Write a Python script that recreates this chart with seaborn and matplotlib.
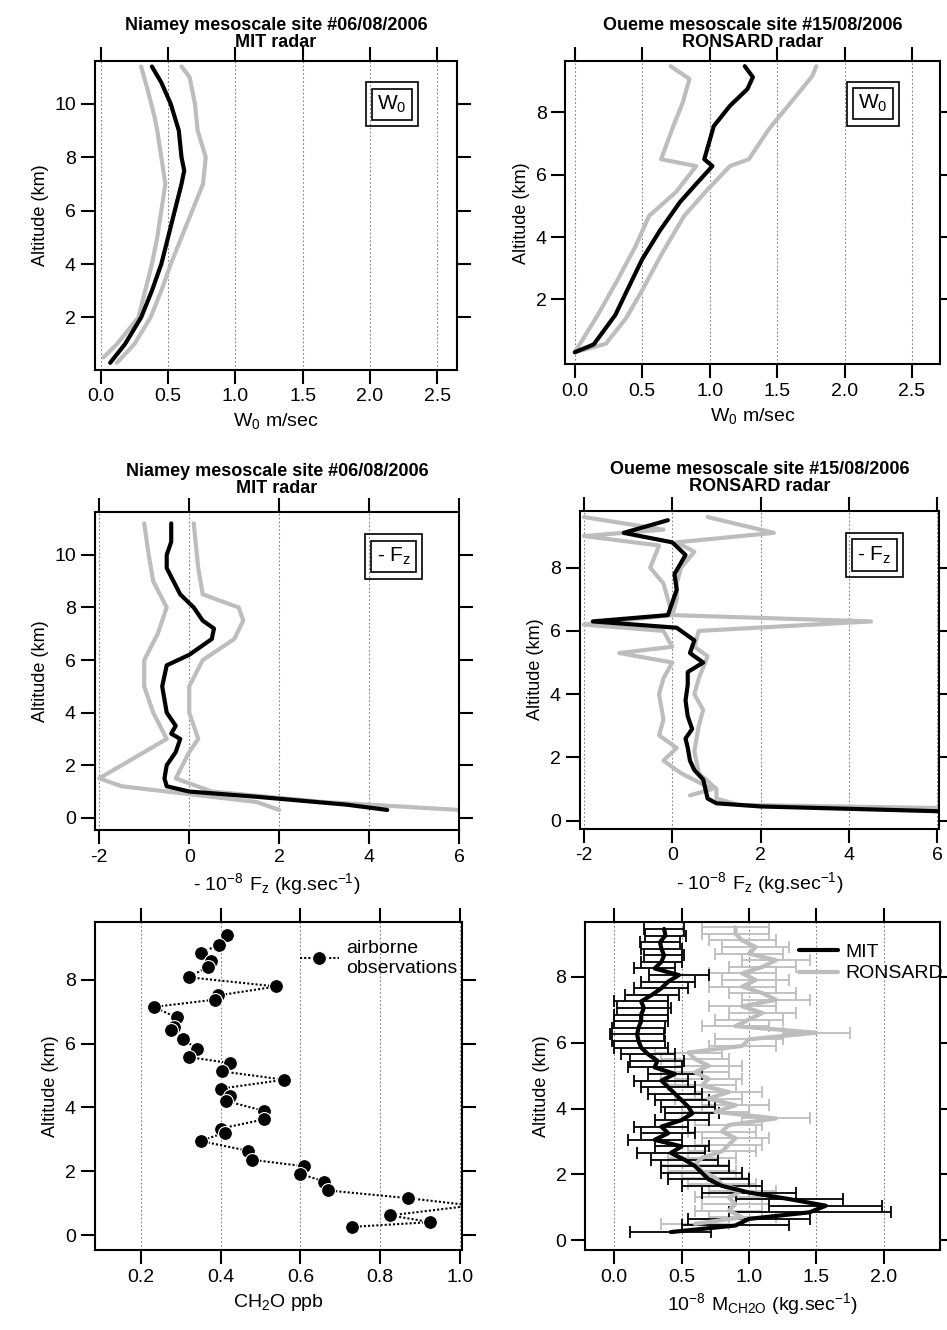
import numpy as np
import pandas as pd
import matplotlib
matplotlib.use("Agg")
import matplotlib.pyplot as plt
import seaborn as sns

sns.set_style("ticks")
plt.rcParams['font.family'] = ['Liberation Sans', 'DejaVu Sans']
plt.rcParams.update({'text.color': 'k', 'axes.labelcolor': 'k', 'xtick.color': 'k', 'ytick.color': 'k',
                     'axes.edgecolor': 'k'})

GREY = '#bdbdbd'

# panel 1 : Niamey W0
p1_alt_mean = [0.3, 1, 2, 3, 4, 5, 6, 7, 7.5, 8, 9, 10, 10.8, 11.4]
p1_mean = [0.07, 0.18, 0.3, 0.38, 0.45, 0.5, 0.55, 0.6, 0.62, 0.6, 0.58, 0.52, 0.45, 0.38]
p1_alt_lo = [0.5, 1, 2, 3, 4, 5, 6, 7, 8, 9, 9.5, 10.5, 11.4]
p1_lo = [0.02, 0.12, 0.28, 0.33, 0.38, 0.42, 0.45, 0.48, 0.45, 0.42, 0.4, 0.35, 0.3]
p1_alt_hi = [0.3, 1, 2, 3, 4, 5, 6, 7, 8, 9, 10, 11, 11.4]
p1_hi = [0.12, 0.25, 0.37, 0.45, 0.52, 0.6, 0.68, 0.76, 0.78, 0.72, 0.7, 0.66, 0.6]

# panel 2 : Oueme W0
p2_alt_mean = [0.31, 0.56, 1.5, 2.4, 3.29, 4.2, 5.12, 5.7, 6.27, 6.49, 7.55, 8.2, 8.74, 9.12, 9.47]
p2_mean = [0.0, 0.14, 0.3, 0.4, 0.5, 0.63, 0.78, 0.9, 1.02, 0.96, 1.03, 1.15, 1.28, 1.32, 1.26]
p2_alt_lo = [0.31, 1.5, 2.65, 3.7, 4.67, 5.44, 6.27, 6.49, 7.55, 8.3, 9.06, 9.47]
p2_lo = [0.0, 0.17, 0.32, 0.45, 0.55, 0.75, 0.9, 0.64, 0.73, 0.8, 0.85, 0.71]
p2_alt_hi = [0.31, 0.58, 1.4, 2.3, 3.5, 4.67, 5.5, 6.27, 6.49, 7.46, 8.3, 9.15, 9.47]
p2_hi = [0.0, 0.23, 0.38, 0.5, 0.65, 0.81, 0.98, 1.15, 1.29, 1.44, 1.6, 1.76, 1.79]

# panel 3 : Niamey -Fz
p3_alt_mean = [0.3, 0.5, 0.8, 1.0, 1.2, 1.5, 2, 2.5, 3.0, 3.2, 3.5, 4, 5, 5.8, 6.2, 6.8, 7.2, 7.5, 8, 8.5, 9.5, 10, 10.5, 11.2]
p3_mean = [4.4, 3.5, 1.5, 0, -0.5, -0.55, -0.5, -0.3, -0.2, -0.4, -0.3, -0.5, -0.6, -0.5, 0, 0.5, 0.55, 0.3, 0.1, -0.2, -0.5, -0.5, -0.4, -0.4]
p3_alt_lo = [0.3, 0.6, 1.2, 1.5, 2, 2.5, 3, 4, 5, 6, 7, 8, 9, 10, 11.2]
p3_lo = [2, 1.5, -1.5, -2, -1.5, -1, -0.5, -0.8, -1, -1, -0.7, -0.5, -0.8, -0.9, -1]
p3_alt_hi = [0.3, 0.6, 1.0, 1.5, 2.5, 3, 4, 5, 6, 6.8, 7.5, 8, 8.5, 9.5, 11.2]
p3_hi = [6, 3, 0.5, -0.3, 0, 0.2, 0, 0, 0.3, 1, 1.2, 1.1, 0.3, 0.2, 0.1]

# panel 4 : Oueme -Fz
p4_alt_mean = [0.3, 0.45, 0.55, 0.7, 1.0, 1.3, 1.6, 1.9, 2.3, 2.6, 2.9, 3.3, 3.8, 4.3, 4.7, 5.0, 5.3, 5.7, 6.1, 6.3, 6.5, 6.9, 7.3, 7.8, 8.4, 8.8, 9.1, 9.5]
p4_mean = [6, 2, 1.0, 0.8, 0.75, 0.7, 0.5, 0.4, 0.35, 0.3, 0.45, 0.35, 0.3, 0.35, 0.35, 0.7, 0.4, 0.5, 0.1, -1.8, -0.1, 0, 0.1, 0.05, 0.3, 0.0, -1.1, -0.1]
p4_alt_lo = [0.8, 1.0, 1.5, 1.9, 2.3, 2.7, 3.2, 4, 4.5, 5, 5.3, 5.5, 6.0, 6.2, 6.5, 7, 7.5, 8, 8.7, 9.0, 9.2, 9.6]
p4_lo = [0.4, 0.9, 0.2, -0.2, 0.1, -0.3, -0.2, -0.3, -0.2, 0, -1.2, 0, -0.2, -2, 0, -0.1, -0.2, -0.5, -0.3, -2, -0.2, -2]
p4_alt_hi = [0.4, 0.5, 0.7, 1.0, 1.5, 2.2, 3, 3.5, 4, 4.5, 5.2, 5.5, 6, 6.3, 6.5, 7, 7.5, 8, 8.5, 8.8, 9.1, 9.6]
p4_hi = [6, 1.5, 1.0, 1.0, 0.6, 0.5, 0.6, 0.7, 0.5, 0.6, 0.8, 0.5, 0.6, 4.5, 0, 0.1, 0.1, 0.2, 0.5, 0.1, 2.3, 0.8]

# panel 5 : CH2O airborne
p5_alt = [9.40, 9.10, 8.84, 8.60, 8.41, 8.08, 7.79, 7.51, 7.38, 7.15, 6.82, 6.53, 6.42, 6.15, 5.83, 5.58,
          5.39, 5.13, 4.87, 4.59, 4.37, 4.20, 3.89, 3.63, 3.34, 3.21, 2.95, 2.64, 2.36, 2.16, 1.92, 1.68,
          1.40, 1.16, 0.93, 0.62, 0.41, 0.26]
p5_ch2o = [0.417, 0.397, 0.35, 0.375, 0.369, 0.32, 0.54, 0.394, 0.387, 0.233, 0.29, 0.283, 0.277, 0.307,
           0.34, 0.32, 0.424, 0.404, 0.56, 0.40, 0.423, 0.415, 0.51, 0.51, 0.40, 0.41, 0.35, 0.47, 0.48,
           0.61, 0.60, 0.66, 0.67, 0.87, 1.03, 0.825, 0.925, 0.73]

# panel 6 : M_CH2O
p6_mit_alt = [0.25, 0.45, 0.65, 0.85, 1.05, 1.25, 1.45, 1.65, 1.85, 2.05, 2.25, 2.45, 2.65, 2.85, 3.05, 3.25,
              3.45, 3.65, 3.85, 4.05, 4.25, 4.45, 4.65, 4.85, 5.05, 5.25, 5.45, 5.65, 5.85, 6.05, 6.25, 6.45,
              6.65, 6.85, 7.05, 7.25, 7.45, 7.65, 7.85, 8.05, 8.25, 8.45, 8.65, 8.85, 9.05, 9.25, 9.45]
p6_mit = [0.42, 0.9, 1.0, 1.45, 1.57, 1.3, 1.0, 0.8, 0.7, 0.65, 0.6, 0.52, 0.42, 0.5, 0.3, 0.4,
          0.35, 0.5, 0.58, 0.55, 0.5, 0.45, 0.4, 0.35, 0.45, 0.3, 0.32, 0.25, 0.2, 0.18, 0.17, 0.18,
          0.2, 0.2, 0.22, 0.2, 0.28, 0.35, 0.4, 0.48, 0.3, 0.35, 0.37, 0.35, 0.34, 0.38, 0.37]
p6_mit_err = [0.3, 0.4, 0.45, 0.6, 0.42, 0.4, 0.35, 0.3, 0.3, 0.3, 0.25, 0.25, 0.25, 0.2, 0.2, 0.2,
              0.2, 0.2, 0.2, 0.2, 0.2, 0.2, 0.2, 0.2, 0.2, 0.2, 0.2, 0.2, 0.2, 0.2, 0.2, 0.2,
              0.2, 0.2, 0.2, 0.2, 0.2, 0.2, 0.2, 0.22, 0.15, 0.15, 0.15, 0.15, 0.15, 0.15, 0.15]
p6_ron_alt = [0.5, 0.7, 0.9, 1.1, 1.3, 1.5, 1.7, 1.9, 2.1, 2.3, 2.5, 2.7, 2.9, 3.1, 3.3, 3.5, 3.7, 3.9,
              4.1, 4.3, 4.5, 4.7, 4.9, 5.1, 5.3, 5.5, 5.7, 5.9, 6.1, 6.3, 6.5, 6.7, 6.9, 7.1, 7.3, 7.5,
              7.7, 7.9, 8.1, 8.3, 8.5, 8.7, 8.9, 9.1, 9.3, 9.5]
p6_ron = [0.6, 0.95, 0.85, 0.9, 0.85, 0.95, 0.8, 0.75, 0.65, 0.6, 0.65, 0.8, 0.85, 0.9, 0.8, 0.85, 1.2, 0.75,
          0.9, 0.7, 0.85, 0.65, 0.7, 0.6, 0.7, 0.6, 0.55, 0.95, 1.0, 1.5, 0.9, 1.0, 1.1, 0.95, 1.2, 1.1,
          0.95, 1.05, 0.95, 1.1, 1.2, 1.0, 1.05, 0.95, 0.9, 0.9]
p6_ron_err = 0.25

fig = plt.figure(figsize=(9.47, 13.3), dpi=100)
axes = [
    fig.add_axes([0.100, 0.722, 0.383, 0.232]),
    fig.add_axes([0.597, 0.726, 0.396, 0.228]),
    fig.add_axes([0.100, 0.376, 0.385, 0.239]),
    fig.add_axes([0.612, 0.377, 0.380, 0.239]),
    fig.add_axes([0.100, 0.060, 0.388, 0.247]),
    fig.add_axes([0.618, 0.060, 0.375, 0.247]),
]


def line(ax, x, y, color, lw=3):
    df = pd.DataFrame({'x': x, 'y': y})
    sns.lineplot(data=df, x='x', y='y', ax=ax, color=color, lw=lw, sort=False, estimator=None)


def boxlabel(ax, s):
    for pad in (0.25, 0.55):
        ax.text(0.82, 0.86, s, transform=ax.transAxes, fontsize=15, ha='center',
                va='center', color='k' if pad == 0.25 else 'none',
                bbox=dict(boxstyle='square', pad=pad, fc='none', ec='k', lw=1.2))


def style(ax, xlim, ylim, xticks, yticks, xlabels, xlabel):
    ax.set_xlim(*xlim)
    ax.set_ylim(*ylim)
    ax.set_xticks(xticks)
    ax.set_xticklabels(xlabels)
    ax.set_yticks(yticks)
    ax.set_ylabel('Altitude (km)', fontsize=13)
    ax.set_xlabel(xlabel, fontsize=14)
    for x in xticks:
        ax.axvline(x, color='grey', ls=(0, (1.5, 2)), lw=0.8, zorder=0)
    ax.tick_params(axis='both', which='both', direction='out', length=10, width=1.5,
                   labelsize=14, top=True, right=True)
    for s in ax.spines.values():
        s.set_linewidth(1.5)


titles = ['Niamey mesoscale site #06/08/2006\nMIT radar', 'Oueme mesoscale site #15/08/2006\nRONSARD radar']

ax = axes[0]
line(ax, p1_lo, p1_alt_lo, GREY)
line(ax, p1_hi, p1_alt_hi, GREY)
line(ax, p1_mean, p1_alt_mean, 'k')
style(ax, (-0.045, 2.65), (0.04, 11.6), [0, 0.5, 1, 1.5, 2, 2.5], [2, 4, 6, 8, 10],
      ['0.0', '0.5', '1.0', '1.5', '2.0', '2.5'], '$\\mathregular{W_0}$ m/sec')
ax.set_title(titles[0], fontsize=13, fontweight='bold', linespacing=1.0, pad=10)
boxlabel(ax, '$\\mathregular{W_0}$')

ax = axes[1]
line(ax, p2_lo, p2_alt_lo, GREY)
line(ax, p2_hi, p2_alt_hi, GREY)
line(ax, p2_mean, p2_alt_mean, 'k')
style(ax, (-0.07, 2.71), (-0.08, 9.63), [0, 0.5, 1, 1.5, 2, 2.5], [2, 4, 6, 8],
      ['0.0', '0.5', '1.0', '1.5', '2.0', '2.5'], '$\\mathregular{W_0}$ m/sec')
ax.set_title(titles[1], fontsize=13, fontweight='bold', linespacing=1.0, pad=10)
boxlabel(ax, '$\\mathregular{W_0}$')

fz_label = '- $\\mathregular{10^{-8}\\ F_z}$ (kg.sec$\\mathregular{^{-1}}$)'
ax = axes[2]
line(ax, p3_lo, p3_alt_lo, GREY)
line(ax, p3_hi, p3_alt_hi, GREY)
line(ax, p3_mean, p3_alt_mean, 'k')
style(ax, (-2.1, 6.0), (-0.46, 11.63), [-2, 0, 2, 4, 6], [0, 2, 4, 6, 8, 10],
      ['-2', '0', '2', '4', '6'], fz_label)
ax.set_title(titles[0], fontsize=13, fontweight='bold', linespacing=1.0, pad=14)
boxlabel(ax, '- $\\mathregular{F_z}$')

ax = axes[3]
line(ax, p4_lo, p4_alt_lo, GREY)
line(ax, p4_hi, p4_alt_hi, GREY)
line(ax, p4_mean, p4_alt_mean, 'k')
style(ax, (-2.1, 6.05), (-0.25, 9.8), [-2, 0, 2, 4, 6], [0, 2, 4, 6, 8],
      ['-2', '0', '2', '4', '6'], fz_label)
ax.set_title(titles[1], fontsize=13, fontweight='bold', linespacing=1.0, pad=14)
boxlabel(ax, '- $\\mathregular{F_z}$')

ax = axes[4]
ax.plot(p5_ch2o, p5_alt, color='k', ls=(0, (1, 1)), lw=1.5, marker='o', ms=10, mec='white', mew=0.8,
        label='airborne\nobservations')
style(ax, (0.085, 1.005), (-0.47, 9.82), [0.2, 0.4, 0.6, 0.8, 1.0], [0, 2, 4, 6, 8],
      ['0.2', '0.4', '0.6', '0.8', '1.0'], 'CH$\\mathregular{_2}$O ppb')
ax.legend(loc='upper right', frameon=False, fontsize=14, handlelength=2.0, handletextpad=0.4,
          borderaxespad=0.2, bbox_to_anchor=(1.02, 0.98))

ax = axes[5]
ax.errorbar(p6_ron, p6_ron_alt, xerr=p6_ron_err, color=GREY, ecolor=GREY, lw=0, elinewidth=1.3,
            capsize=4, capthick=1.3)
ax.errorbar(p6_mit, p6_mit_alt, xerr=p6_mit_err, color='k', ecolor='k', lw=0, elinewidth=1.3,
            capsize=4, capthick=1.3)
line(ax, p6_ron, p6_ron_alt, GREY)
line(ax, p6_mit, p6_mit_alt, 'k')
ax.plot([], [], color='k', lw=3, label='MIT')
ax.plot([], [], color=GREY, lw=3, label='RONSARD')
style(ax, (-0.215, 2.42), (-0.3, 9.67), [0, 0.5, 1, 1.5, 2], [0, 2, 4, 6, 8],
      ['0.0', '0.5', '1.0', '1.5', '2.0'], '$\\mathregular{10^{-8}\\ M_{CH2O}}$ (kg.sec$\\mathregular{^{-1}}$)')
ax.legend(loc='upper right', frameon=False, fontsize=14, handlelength=2.0, handletextpad=0.4,
          borderaxespad=0.2, labelspacing=0.2, bbox_to_anchor=(1.04, 0.97))

fig.savefig('out.png', dpi=100)
